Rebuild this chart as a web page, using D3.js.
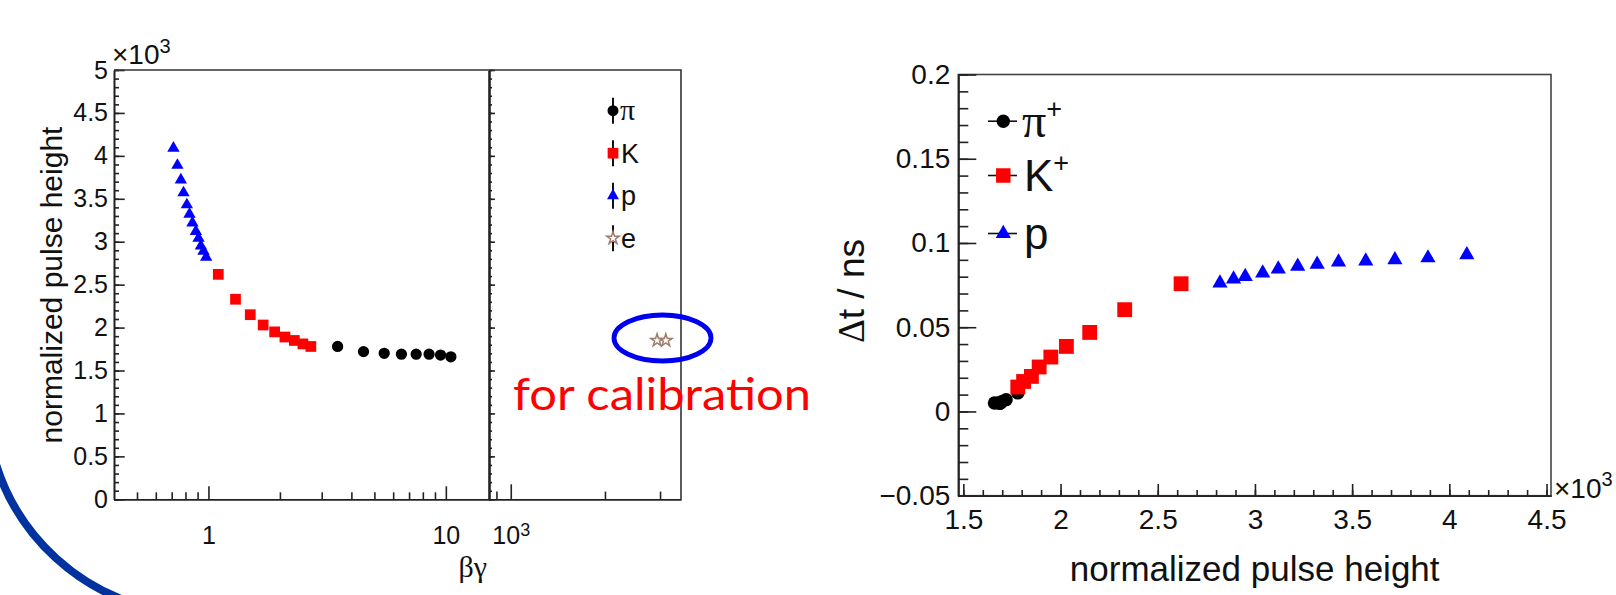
<!DOCTYPE html>
<html>
<head>
<meta charset="utf-8">
<script src="https://cdn.jsdelivr.net/npm/d3@7"></script>
<style>
  body { margin: 0; background: #fff; }
  svg { display: block; }
</style>
</head>
<body>
<div id="chartArea"></div>
<script>
// pulse height in units of 10^3, beta*gamma, time difference in ns
const piBG = [3.5, 4.5, 5.5, 6.5, 7.5, 8.5, 9.5, 10.5];
const piPH = [1.78, 1.72, 1.70, 1.69, 1.69, 1.69, 1.68, 1.66];
const piDT = [0.011, 0.007, 0.006, 0.005, 0.005, 0.005, 0.005, 0.005];

const kBG = [1.1, 1.3, 1.5, 1.7, 1.9, 2.1, 2.3, 2.5, 2.7];
const kPH = [2.62, 2.33, 2.15, 2.03, 1.95, 1.89, 1.85, 1.81, 1.78];
const kDT = [0.0758, 0.0604, 0.0469, 0.0386, 0.0323, 0.0264, 0.0208, 0.0178, 0.0145];

const pBG = [0.712, 0.740, 0.765, 0.785, 0.811, 0.832, 0.856, 0.885, 0.908, 0.929, 0.953, 0.978];
const pPH = [4.09, 3.89, 3.72, 3.57, 3.43, 3.32, 3.22, 3.12, 3.04, 2.95, 2.89, 2.82];
const pDT = [0.0930, 0.0911, 0.0900, 0.0893, 0.0887, 0.0873, 0.0861, 0.0845, 0.0821, 0.0801, 0.0786, 0.0762];

const eBG = [2935, 3130];
const ePH = [1.85, 1.85];

const leftLegend = ["π", "K", "p", "e"];
const rightLegend = ["π", "K", "p"];
const rightLegendSup = ["+", "+", ""];

const yTicksL = [0, 0.5, 1, 1.5, 2, 2.5, 3, 3.5, 4, 4.5, 5];
const xTicksL = [1, 10];
const xTicksL2 = [1000];
const yTicksR = [-0.05, 0, 0.05, 0.1, 0.15, 0.2];
const xTicksR = [1.5, 2, 2.5, 3, 3.5, 4, 4.5];

const W = 1616, H = 595;
const sans = "'Liberation Sans', Arial, sans-serif";
const serif = "'Liberation Serif', 'Times New Roman', serif";

let svg = d3.select('#chartArea').append('svg')
   .attr('width', W).attr('height', H)
   .style('background', '#fff');

// ---------- left pad ----------
let xL1 = d3.scaleLog().domain([0.4, 15.2]).range([114, 489]);
let xL2 = d3.scaleLog().domain([852, 3500]).range([489, 681]);
let yL = d3.scaleLinear().domain([0, 5]).range([499.3, 70]);

let fmt = d3.format("~g");

function styleAxis(g, size) {
   g.attr('font-family', sans).attr('font-size', size);
   g.selectAll('path, line').attr('stroke', '#222').attr('stroke-width', 1.6);
   g.selectAll('text').attr('fill', '#111');
}

// y axis (left sub pad)
svg.append('g').attr('transform', 'translate(114,0)')
   .call(d3.axisLeft(yL).tickValues(d3.range(0, 51).map(i => i / 10))
      .tickSize(-5).tickSizeOuter(0).tickFormat(''))
   .call(g => styleAxis(g, 25));
svg.append('g').attr('transform', 'translate(114,0)')
   .call(d3.axisLeft(yL).tickValues(yTicksL).tickSize(-10.7).tickSizeOuter(0)
      .tickPadding(6).tickFormat(fmt))
   .call(g => styleAxis(g, 25));

// x axis (left sub pad, log)
svg.append('g').attr('transform', 'translate(0,499.3)')
   .call(d3.axisBottom(xL1).tickValues([0.5, 0.6, 0.7, 0.8, 0.9, 2, 3, 4, 5, 6, 7, 8, 9])
      .tickSize(-7).tickSizeOuter(0).tickFormat(''))
   .call(g => styleAxis(g, 25));
svg.append('g').attr('transform', 'translate(0,499.3)')
   .call(d3.axisBottom(xL1).tickValues(xTicksL).tickSize(-13).tickSizeOuter(0)
      .tickPadding(27).tickFormat(fmt))
   .call(g => styleAxis(g, 25));

// second sub pad (electrons)
svg.append('g').attr('transform', 'translate(0,499.3)')
   .call(d3.axisBottom(xL2).tickValues([900, 2000, 3000])
      .tickSize(-7.7).tickSizeOuter(0).tickFormat(''))
   .call(g => styleAxis(g, 25));
svg.append('g').attr('transform', 'translate(0,499.3)')
   .call(d3.axisBottom(xL2).tickValues(xTicksL2).tickSize(-15).tickSizeOuter(0)
      .tickPadding(27).tickFormat(''))
   .call(g => styleAxis(g, 25))
   .call(g => {
      let t = g.selectAll('.tick text').text('10');
      t.append('tspan').attr('dy', '-0.45em').attr('font-size', '0.72em').text('3');
   });
svg.append('g').attr('transform', 'translate(489,0)')
   .call(d3.axisLeft(yL).tickValues(d3.range(0, 51).map(i => i / 10))
      .tickSize(-3).tickSizeOuter(0).tickFormat(''))
   .call(g => styleAxis(g, 25))
   .call(g => g.select('.domain').attr('stroke-width', 2.6));
svg.append('g').attr('transform', 'translate(489,0)')
   .call(d3.axisLeft(yL).tickValues(yTicksL).tickSize(-6).tickSizeOuter(0).tickFormat(''))
   .call(g => styleAxis(g, 25))
   .call(g => g.select('.domain').remove());

// frame
svg.append('path')
   .attr('d', `M114,70 H681 V499.3`)
   .attr('fill', 'none').attr('stroke', '#333').attr('stroke-width', 1.6);

// ×10^3
let exL = svg.append('text').attr('x', 112).attr('y', 64)
   .attr('font-family', sans).attr('font-size', 28).attr('fill', '#111').text('×10');
exL.append('tspan').attr('dy', -11).attr('font-size', 20).text('3');

// titles
svg.append('text')
   .attr('transform', 'translate(62,285) rotate(-90)')
   .attr('text-anchor', 'middle')
   .attr('font-family', sans).attr('font-size', 30).attr('fill', '#111')
   .text('normalized pulse height');
svg.append('text')
   .attr('x', 487).attr('y', 577).attr('text-anchor', 'end')
   .attr('font-family', serif).attr('font-size', 30).attr('fill', '#111')
   .text('βγ');

// markers
let symCircle = s => d3.symbol().type(d3.symbolCircle).size(s)();
let symSquare = s => d3.symbol().type(d3.symbolSquare).size(s)();
let symTri = s => d3.symbol().type(d3.symbolTriangle).size(s)();
let symStar = s => d3.symbol().type(d3.symbolStar).size(s)();

const colPi = '#000', colK = '#ff0000', colP = '#0000ff', colE = '#a07c6c';

svg.append('g').selectAll('path').data(d3.range(piBG.length)).enter().append('path')
   .attr('transform', i => `translate(${xL1(piBG[i])},${yL(piPH[i])})`)
   .attr('d', symCircle(100)).attr('fill', colPi);
svg.append('g').selectAll('path').data(d3.range(kBG.length)).enter().append('path')
   .attr('transform', i => `translate(${xL1(kBG[i])},${yL(kPH[i])})`)
   .attr('d', symSquare(115)).attr('fill', colK);
svg.append('g').selectAll('path').data(d3.range(pBG.length)).enter().append('path')
   .attr('transform', i => `translate(${xL1(pBG[i])},${yL(pPH[i])})`)
   .attr('d', symTri(66)).attr('fill', colP);
svg.append('g').selectAll('path').data(d3.range(eBG.length)).enter().append('path')
   .attr('transform', i => `translate(${xL2(eBG[i])},${yL(ePH[i])})`)
   .attr('d', symStar(50)).attr('fill', 'none').attr('stroke', colE).attr('stroke-width', 1.5);

// left legend
let legL = svg.append('g');
let legShapes = [symCircle(95), symSquare(115), symTri(62), symStar(50)];
let legCols = [colPi, colK, colP, colE];
leftLegend.forEach((lab, i) => {
   let y = 110.7 + i * 42.5;
   legL.append('line').attr('x1', 613).attr('x2', 613).attr('y1', y - 13).attr('y2', y + 13)
      .attr('stroke', '#111').attr('stroke-width', 2);
   let m = legL.append('path').attr('transform', `translate(613,${y})`).attr('d', legShapes[i]);
   if (i == 3) {
      m.attr('fill', '#fff').attr('stroke', colE).attr('stroke-width', 1.5);
   } else {
      m.attr('fill', legCols[i]);
   }
   legL.append('text').attr('x', i == 0 ? 620 : 621).attr('y', y + 9.5)
      .attr('font-family', i == 0 ? serif : sans).attr('font-size', i == 0 ? 30 : 27)
      .attr('fill', '#111').text(lab);
});

// ---------- right pad ----------
let xR = d3.scaleLinear().domain([1.474, 4.523]).range([958.3, 1551]);
let yR = d3.scaleLinear().domain([-0.05, 0.2]).range([495.7, 74.5]);

svg.append('rect').attr('x', 958.3).attr('y', 74.5).attr('width', 1551 - 958.3).attr('height', 495.7 - 74.5)
   .attr('fill', 'none').attr('stroke', '#444').attr('stroke-width', 1.6);

svg.append('g').attr('transform', 'translate(958.3,0)')
   .call(d3.axisLeft(yR).tickValues(d3.range(-50, 201, 10).map(v => v / 1000))
      .tickSize(-10).tickSizeOuter(0).tickFormat(''))
   .call(g => styleAxis(g, 28));
svg.append('g').attr('transform', 'translate(958.3,0)')
   .call(d3.axisLeft(yR).tickValues(yTicksR).tickSize(-18).tickSizeOuter(0).tickPadding(8)
      .tickFormat(d => d < 0 ? '−' + fmt(-d) : fmt(d)))
   .call(g => styleAxis(g, 28));
svg.append('g').attr('transform', 'translate(0,495.7)')
   .call(d3.axisBottom(xR).tickValues(d3.range(15, 46).map(v => v / 10))
      .tickSize(-5.7).tickSizeOuter(0).tickFormat(''))
   .call(g => styleAxis(g, 28));
svg.append('g').attr('transform', 'translate(0,495.7)')
   .call(d3.axisBottom(xR).tickValues(xTicksR).tickSize(-11.7).tickSizeOuter(0).tickPadding(13)
      .tickFormat(fmt))
   .call(g => styleAxis(g, 28));

let exR = svg.append('text').attr('x', 1554).attr('y', 498)
   .attr('font-family', sans).attr('font-size', 28).attr('fill', '#111').text('×10');
exR.append('tspan').attr('dy', -12).attr('font-size', 20).text('3');

svg.append('text')
   .attr('x', 1254.7).attr('y', 581).attr('text-anchor', 'middle')
   .attr('font-family', sans).attr('font-size', 35).attr('fill', '#111')
   .text('normalized pulse height');
let dtTitle = svg.append('text')
   .attr('transform', 'translate(864,291) rotate(-90)')
   .attr('text-anchor', 'middle')
   .attr('font-family', sans).attr('font-size', 37).attr('fill', '#111');
dtTitle.append('tspan').attr('font-family', serif).text('Δ');
dtTitle.append('tspan').text('t / ns');

svg.append('g').selectAll('path').data(d3.range(piPH.length)).enter().append('path')
   .attr('transform', i => `translate(${xR(piPH[i])},${yR(piDT[i])})`)
   .attr('d', symCircle(140)).attr('fill', colPi);
svg.append('g').selectAll('path').data(d3.range(kPH.length)).enter().append('path')
   .attr('transform', i => `translate(${xR(kPH[i])},${yR(kDT[i])})`)
   .attr('d', symSquare(220)).attr('fill', colK);
svg.append('g').selectAll('path').data(d3.range(pPH.length)).enter().append('path')
   .attr('transform', i => `translate(${xR(pPH[i])},${yR(pDT[i])})`)
   .attr('d', symTri(100)).attr('fill', colP);

// right legend
let legR = svg.append('g');
let legShapesR = [symCircle(140), symSquare(210), symTri(100)];
rightLegend.forEach((lab, i) => {
   let y = [121.2, 175.5, 233.5][i];
   legR.append('line').attr('x1', 988).attr('x2', 1017).attr('y1', y).attr('y2', y)
      .attr('stroke', '#111').attr('stroke-width', 1.6);
   legR.append('path').attr('transform', `translate(1003.3,${y})`).attr('d', legShapesR[i])
      .attr('fill', legCols[i]);
   let t = legR.append('text').attr('x', i == 0 ? 1022 : 1024).attr('y', y + 15.5)
      .attr('font-family', i == 0 ? serif : sans).attr('font-size', i == 0 ? 48 : 44)
      .attr('fill', '#111').text(lab);
   if (rightLegendSup[i]) {
      t.append('tspan').attr('dy', -19).attr('font-family', sans).attr('font-size', 27)
         .text(rightLegendSup[i]);
   }
});

// ---------- slide annotations ----------
svg.append('path')
   .attr('d', 'M -5,461 A 214,214 0 0,0 159,610')
   .attr('fill', 'none').attr('stroke', '#0033a0').attr('stroke-width', 8);

svg.append('text').attr('x', 513).attr('y', 410)
   .attr('font-family', "Lato, 'Open Sans', sans-serif").attr('font-size', 45)
   .attr('textLength', 298).attr('lengthAdjust', 'spacingAndGlyphs')
   .attr('fill', '#ff0000').text('for calibration');

svg.append('ellipse').attr('cx', 662.5).attr('cy', 338).attr('rx', 48.5).attr('ry', 23)
   .attr('fill', 'none').attr('stroke', '#0000f0').attr('stroke-width', 4.8);
</script>
</body>
</html>
